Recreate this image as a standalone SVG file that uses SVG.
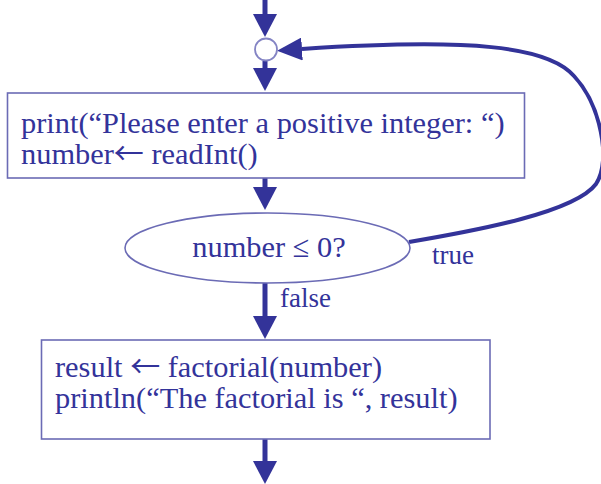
<svg xmlns="http://www.w3.org/2000/svg" width="601" height="484" viewBox="0 0 601 484">
  <style>
    .box { fill: #ffffff; stroke: #6b6bb5; stroke-width: 1.6; }
    .junction { fill: #ffffff; stroke: #8484c4; stroke-width: 1.8; }
    .txt { font-family: "Liberation Serif", "Times New Roman", serif; font-size: 30.4px; fill: #33339a; }
    .lbl { font-family: "Liberation Serif", "Times New Roman", serif; font-size: 27px; fill: #33339a; }
    .arw { font-family: "Noto Sans CJK SC", sans-serif; font-size: 30px; }
    .flow { stroke: #333399; stroke-width: 5; fill: none; }
    .loop { stroke: #333399; stroke-width: 4; fill: none; }
  </style>
  <defs>
    <marker id="head" viewBox="0 0 23 24" markerUnits="userSpaceOnUse" markerWidth="23" markerHeight="24" refX="0" refY="12" orient="auto">
      <path d="M0,0 L23,12 L0,24 Z" fill="#333399"/>
    </marker>
    <marker id="headLoop" viewBox="0 0 25 23" markerUnits="userSpaceOnUse" markerWidth="25" markerHeight="23" refX="0" refY="11.5" orient="auto">
      <path d="M0,0 L25,11.5 L0,23 Z" fill="#333399"/>
    </marker>
  </defs>

  <!-- connectors -->
  <g id="connectors">
    <line class="flow" x1="265" y1="0" x2="265" y2="14" marker-end="url(#head)"/>
    <line class="flow" x1="265" y1="61" x2="265" y2="68" marker-end="url(#head)"/>
    <line class="flow" x1="265" y1="178" x2="265" y2="187" marker-end="url(#head)"/>
    <line class="flow" x1="265" y1="283" x2="265" y2="316" marker-end="url(#head)"/>
    <line class="flow" x1="265" y1="439" x2="265" y2="461" marker-end="url(#head)"/>
    <path class="loop" d="M409,242 C480,230 575,212 596,184 C612,160 600,104 574,76 C548,46 470,38 302,49" marker-end="url(#headLoop)"/>
    <text class="lbl" x="432" y="264">true</text>
    <text class="lbl" x="280" y="307">false</text>
  </g>

  <!-- merge point -->
  <g id="junction">
    <circle class="junction" cx="266" cy="49.5" r="11"/>
  </g>

  <!-- input step -->
  <g id="read-input">
    <rect class="box" x="7.5" y="93" width="517" height="85"/>
    <text class="txt" x="21" y="133">print(“Please enter a positive integer: “)</text>
    <text class="txt" x="21" y="164">number<tspan class="arw">←</tspan> readInt()</text>
  </g>

  <!-- decision -->
  <g id="check">
    <ellipse class="box" cx="267.5" cy="248" rx="142.5" ry="35"/>
    <text class="txt" x="269" y="257" text-anchor="middle">number ≤ 0?</text>
  </g>

  <!-- output step -->
  <g id="compute">
    <rect class="box" x="41.5" y="340" width="448.5" height="99"/>
    <text class="txt" x="55" y="377">result <tspan class="arw">←</tspan> factorial(number)</text>
    <text class="txt" x="55" y="408">println(“The factorial is “, result)</text>
  </g>
</svg>
